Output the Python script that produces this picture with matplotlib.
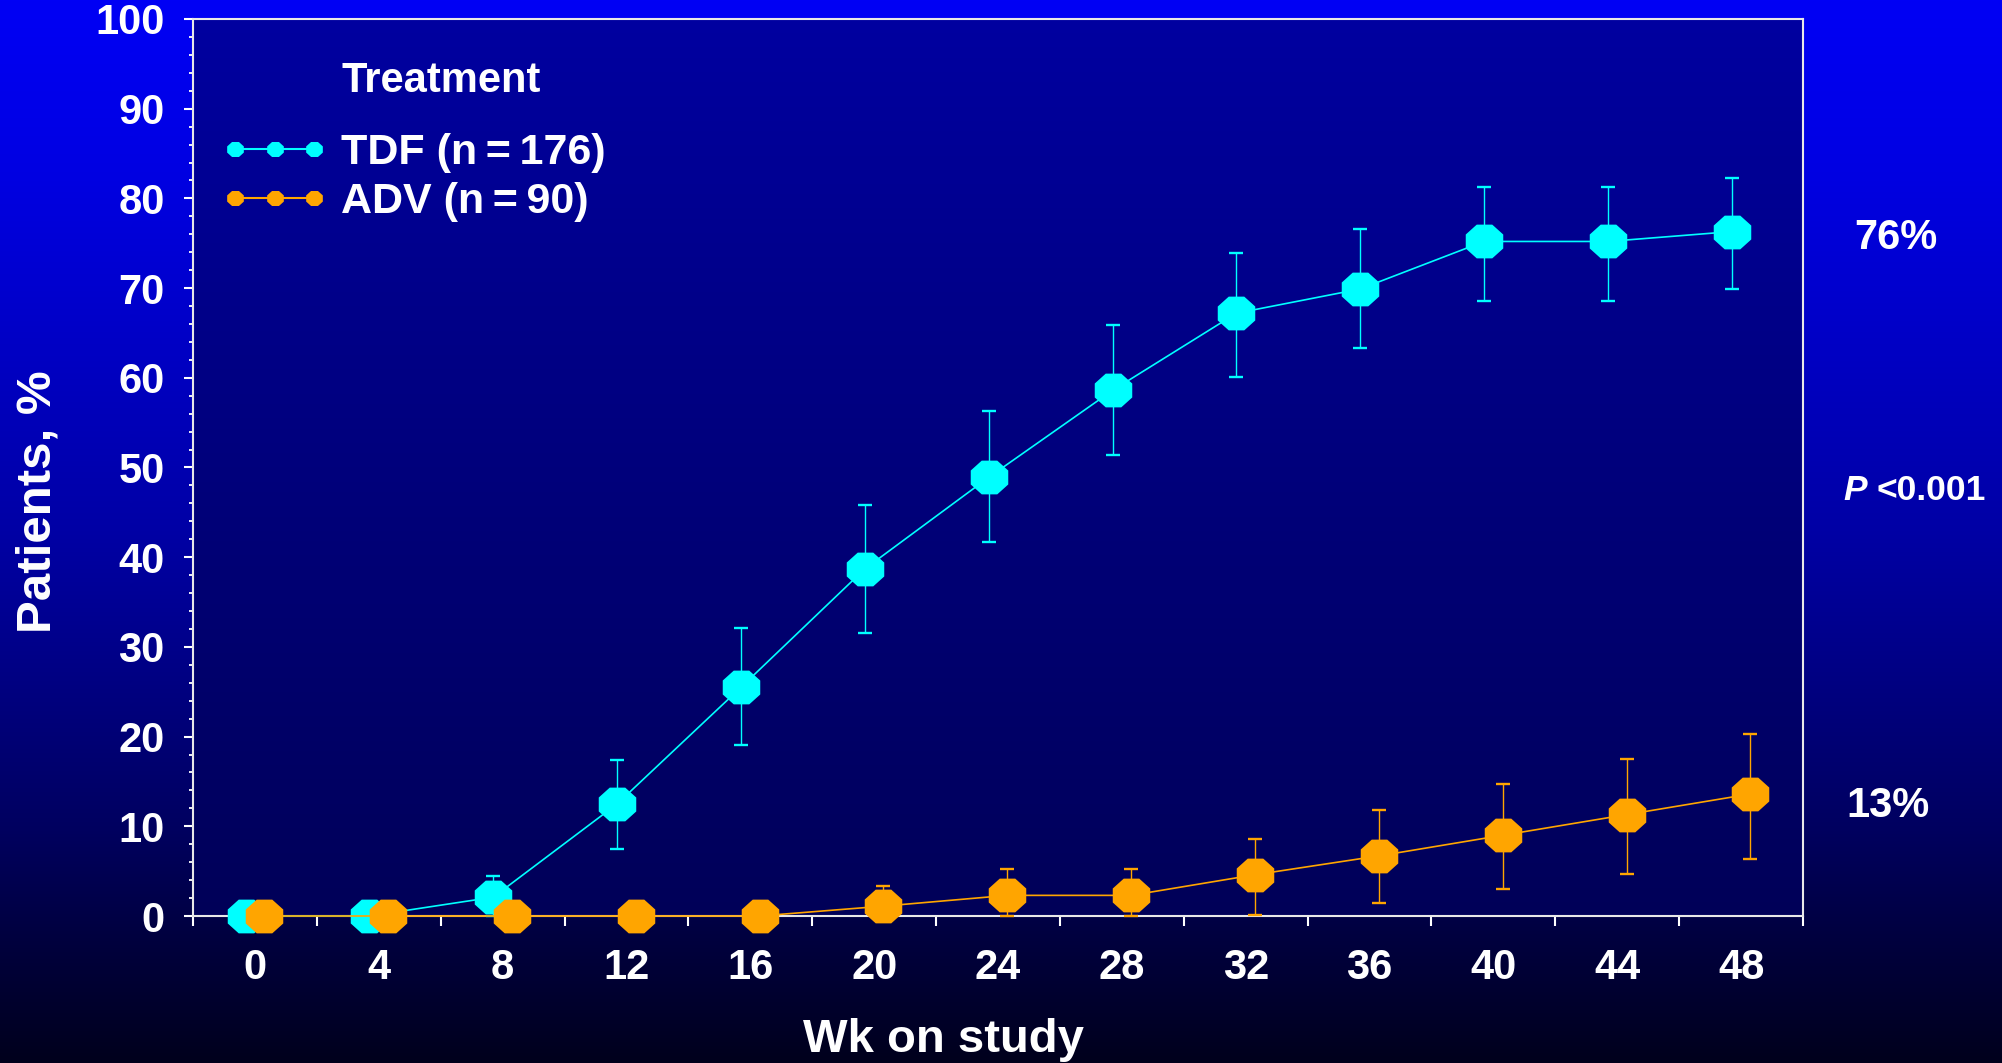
import numpy as np
import matplotlib
matplotlib.use("Agg")
import matplotlib.pyplot as plt
from matplotlib.path import Path
from matplotlib.lines import Line2D
from matplotlib.legend_handler import HandlerLine2D

plt.rcParams['font.family'] = ['Liberation Sans', 'DejaVu Sans']
plt.rcParams['font.weight'] = 'bold'
plt.rcParams['axes.labelweight'] = 'bold'

# data (% of patients, by week on study)
weeks = [0, 4, 8, 12, 16, 20, 24, 28, 32, 36, 40, 44, 48]
tdf = [0, 0, 2.1, 12.5, 25.5, 38.7, 48.9, 58.6, 67.2, 69.9, 75.2, 75.2, 76.3]
tdf_hi = [0, 0, 4.5, 17.4, 32.1, 45.8, 56.3, 65.9, 73.9, 76.6, 81.3, 81.3, 82.3]
tdf_lo = [0, 0, 0, 7.5, 19.1, 31.5, 41.7, 51.4, 60.1, 63.3, 68.6, 68.6, 69.9]
adv = [0, 0, 0, 0, 0, 1.1, 2.3, 2.3, 4.6, 6.7, 9.0, 11.3, 13.6]
adv_hi = [0, 0, 0, 0, 0, 3.3, 5.2, 5.2, 8.6, 11.8, 14.7, 17.5, 20.3]
adv_lo = [0, 0, 0, 0, 0, 0, 0, 0, 0.1, 1.5, 3.0, 4.7, 6.3]
series_labels = ["TDF (n\u2009=\u2009176)", "ADV (n\u2009=\u200990)"]
series_colors = ["#00FFFF", "#FFA500"]

W, H = 2002, 1063
fig = plt.figure(figsize=(W / 100, H / 100), dpi=100)

# background gradient for the whole slide
bg = fig.add_axes([0, 0, 1, 1], zorder=-1)
rows = np.arange(H)
blue = np.interp(rows, [0, 180, 530, 830, 930, 1063], [245, 225, 165, 95, 65, 28]) / 255
img = np.zeros((H, 1, 3))
img[:, 0, 2] = blue
bg.imshow(img, aspect='auto', extent=(0, 1, 0, 1))
bg.set_xlim(0, 1)
bg.set_ylim(0, 1)
bg.axis('off')

ax = fig.add_axes([193 / W, 1 - 916 / H, 1610 / W, 897 / H])
# darker gradient inside the plot area
pr = np.linspace(0, 1, 256)
aimg = np.zeros((256, 1, 3))
aimg[:, 0, 2] = (160 - 72 * pr) / 255
ax.imshow(aimg, aspect='auto', extent=(-2, 50, 0, 100), zorder=0)

# octagon marker, a bit wider than tall
ang = np.deg2rad(22.5 + 45 * np.arange(8))
verts = np.column_stack([np.cos(ang), 0.9 * np.sin(ang)])
verts = np.vstack([verts, verts[:1]])
octo = Path(verts, closed=True)

off = 0.3
x_tdf = np.array(weeks) - off
x_adv = np.array(weeks) + off

for xs, v, lo, hi, col in [(x_tdf, tdf, tdf_lo, tdf_hi, series_colors[0]),
                           (x_adv, adv, adv_lo, adv_hi, series_colors[1])]:
    v = np.array(v)
    yerr = [v - np.array(lo), np.array(hi) - v]
    ax.errorbar(xs, v, yerr=yerr, fmt='none', ecolor=col, elinewidth=1.0,
                capsize=5, capthick=1.7, zorder=3, clip_on=False)
    ax.plot(xs, v, color=col, lw=1.2, marker=octo, markersize=27,
            markeredgewidth=0, zorder=4, clip_on=False)

ax.set_xlim(-2, 50)
ax.set_ylim(0, 100)

ax.set_xticks(np.arange(-2, 51, 4))
ax.set_xticklabels([])
ax.set_xticks(weeks, [str(w) for w in weeks], minor=True)
ax.tick_params(axis='x', which='major', direction='out', length=7.2, width=1.5,
               color='white')
ax.tick_params(axis='x', which='minor', length=0, pad=23, labelsize=30,
               labelcolor='white')
ax.set_yticks(np.arange(0, 101, 10))
ax.set_yticks(np.arange(0, 101, 2), minor=True)
ax.tick_params(axis='y', which='major', direction='out', length=6.5, width=1.5,
               color='white', labelsize=30, labelcolor='white', pad=14)
ax.tick_params(axis='y', which='minor', direction='out', length=3.2, width=1.3,
               color='white')
for s in ax.spines.values():
    s.set_color('#E8E8E8')
    s.set_linewidth(1.5)

ax.set_xlabel("Wk on study", fontsize=34, color='white', va='center')
ax.xaxis.set_label_coords((943 - 193) / 1610, (916 - 1040) / 897)
ax.set_ylabel("Patients, %", fontsize=35.5, color='white', va='center')
ax.yaxis.set_label_coords((38 - 193) / 1610, (916 - 502) / 897)

# legend
handles = [Line2D([], [], color=c, lw=1.5, marker=octo, markersize=12,
                  markeredgewidth=0) for c in series_colors]
leg = ax.legend(handles, series_labels, loc='upper left',
                bbox_to_anchor=(235 / W, 1 - 133 / H), bbox_transform=fig.transFigure,
                numpoints=3, handlelength=1.84, handletextpad=0.63, labelspacing=0.22,
                borderpad=0, borderaxespad=0, frameon=False, fontsize=31,
                labelcolor='white',
                handler_map={Line2D: HandlerLine2D(marker_pad=0)})
fig.text(341 / W, 1 - 81 / H, "Treatment", fontsize=30, color='white',
         ha='left', va='center')

# annotations on the right
fig.text(1896 / W, 1 - 238 / H, "76%", fontsize=30, color='white', ha='center', va='center')
fig.text(1888 / W, 1 - 806 / H, "13%", fontsize=30, color='white', ha='center', va='center')
fig.text(1843 / W, 1 - 491 / H, "P", fontsize=25.5, color='white', style='italic',
         ha='left', va='center')
fig.text(1876 / W, 1 - 491 / H, "<0.001", fontsize=25.5, color='white',
         ha='left', va='center')

fig.savefig("out.png", dpi=100)
